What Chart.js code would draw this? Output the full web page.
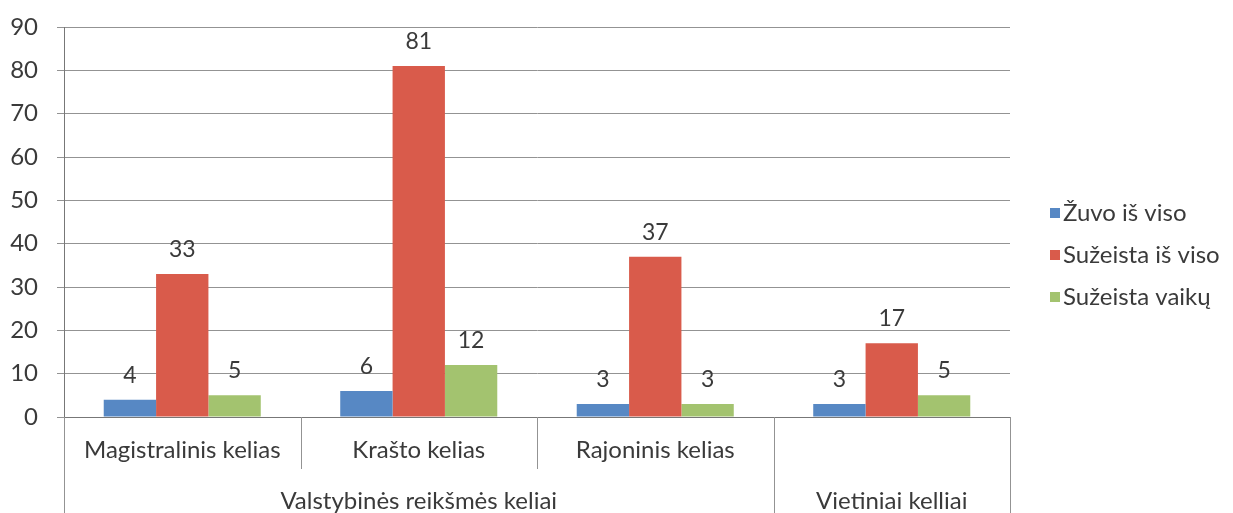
<!DOCTYPE html>
<html>
<head>
<meta charset="utf-8">
<script src="https://cdn.jsdelivr.net/npm/chart.js@4.4.1/dist/chart.umd.min.js"></script>
<style>
  html, body { margin: 0; padding: 0; background: #fff; }
  #wrap { width: 1233px; height: 513px; position: relative; }
</style>
</head>
<body>
<div id="wrap"><canvas id="chart" width="1233" height="513"></canvas></div>
<script>
// Road categories (first label row) and their groups (second row)
const categories = ['Magistralinis kelias', 'Krašto kelias', 'Rajoninis kelias', ''];
const groupLabels = ['Valstybinės reikšmės keliai', 'Vietiniai kelliai'];
const groupSpans = [3, 1];

// Series
const seriesNames = ['Žuvo iš viso', 'Sužeista iš viso', 'Sužeista vaikų'];
const killedTotal = [4, 6, 3, 3];
const injuredTotal = [33, 81, 37, 17];
const injuredChildren = [5, 12, 3, 5];

const yTicks = [0, 10, 20, 30, 40, 50, 60, 70, 80, 90];

const colors = ['#5788c4', '#d95b4b', '#a3c36f'];
const textColor = '#3a3a3a';
const lineColor = '#939393';
const fontFamily = 'Lato, "Open Sans", sans-serif';

// Value labels above each bar
const valueLabels = {
    id: 'valueLabels',
    afterDatasetsDraw(chart) {
        const ctx = chart.ctx;
        ctx.save();
        ctx.font = '23px ' + fontFamily;
        ctx.fillStyle = textColor;
        ctx.textAlign = 'center';
        ctx.textBaseline = 'bottom';
        chart.data.datasets.forEach((ds, i) => {
            const meta = chart.getDatasetMeta(i);
            meta.data.forEach((bar, j) => {
                ctx.fillText(String(ds.data[j]), bar.x, bar.y - 13);
            });
        });
        ctx.restore();
    }
};

// Two-level category axis drawn under the plot
const groupedAxis = {
    id: 'groupedAxis',
    afterDraw(chart) {
        const ctx = chart.ctx;
        const xs = chart.scales.x;
        const n = categories.length;
        const step = (xs.right - xs.left) / n;
        const top = xs.top;
        const bottom = chart.height;
        ctx.save();
        ctx.strokeStyle = lineColor;
        ctx.lineWidth = 1;

        // which boundaries close a group
        const groupEdges = [0];
        let acc = 0;
        groupSpans.forEach(s => { acc += s; groupEdges.push(acc); });

        for (let i = 0; i <= n; i++) {
            const x = Math.round(xs.left + i * step) + 0.5;
            const isGroupEdge = groupEdges.includes(i);
            ctx.beginPath();
            ctx.moveTo(x, top);
            ctx.lineTo(x, isGroupEdge ? bottom : top + 52);
            ctx.stroke();
        }

        ctx.font = '24px ' + fontFamily;
        ctx.fillStyle = textColor;
        ctx.textAlign = 'center';
        ctx.textBaseline = 'middle';
        categories.forEach((c, i) => {
            ctx.fillText(c, xs.left + (i + 0.5) * step, top + 33);
        });

        let start = 0;
        groupLabels.forEach((g, k) => {
            const mid = xs.left + (start + groupSpans[k] / 2) * step;
            ctx.fillText(g, mid, top + 84);
            start += groupSpans[k];
        });
        ctx.restore();
    }
};

// Legend at the right, drawn from the datasets
const sideLegend = {
    id: 'sideLegend',
    afterDraw(chart) {
        const ctx = chart.ctx;
        const x0 = chart.chartArea.right + 40;
        const y0 = 213;
        const gap = 42;
        ctx.save();
        ctx.font = '24px ' + fontFamily;
        ctx.textBaseline = 'middle';
        ctx.textAlign = 'left';
        chart.data.datasets.forEach((ds, i) => {
            const y = y0 + i * gap;
            ctx.fillStyle = ds.backgroundColor;
            ctx.fillRect(x0, y - 5, 10, 10);
            ctx.fillStyle = textColor;
            ctx.fillText(ds.label, x0 + 13, y);
        });
        ctx.restore();
    }
};

const ctx = document.getElementById('chart').getContext('2d');
new Chart(ctx, {
    type: 'bar',
    data: {
        labels: categories,
        datasets: [killedTotal, injuredTotal, injuredChildren].map((d, i) => ({
            label: seriesNames[i],
            data: d,
            backgroundColor: colors[i],
            borderWidth: 0,
            categoryPercentage: 0.664,
            barPercentage: 1
        }))
    },
    options: {
        responsive: false,
        animation: false,
        layout: { padding: { top: 27, right: 223, left: 0, bottom: 0 } },
        plugins: {
            legend: { display: false },
            tooltip: { enabled: false }
        },
        scales: {
            x: {
                ticks: { display: false },
                grid: { display: false },
                border: { display: true, color: '#777', width: 1 },
                afterFit(scale) { scale.height = 96; }
            },
            y: {
                min: yTicks[0],
                max: yTicks[yTicks.length - 1],
                afterBuildTicks(scale) { scale.ticks = yTicks.map(v => ({ value: v })); },
                ticks: {
                    color: textColor,
                    font: { family: fontFamily, size: 24 },
                    padding: 19
                },
                grid: { color: lineColor, tickLength: 7, lineWidth: 1 },
                border: { display: true, color: '#777', width: 1 },
                afterFit(scale) {
                    scale.width = 64;
                    scale.paddingTop = 0;
                    scale.paddingBottom = 0;
                }
            }
        }
    },
    plugins: [valueLabels, groupedAxis, sideLegend]
});
</script>
</body>
</html>
